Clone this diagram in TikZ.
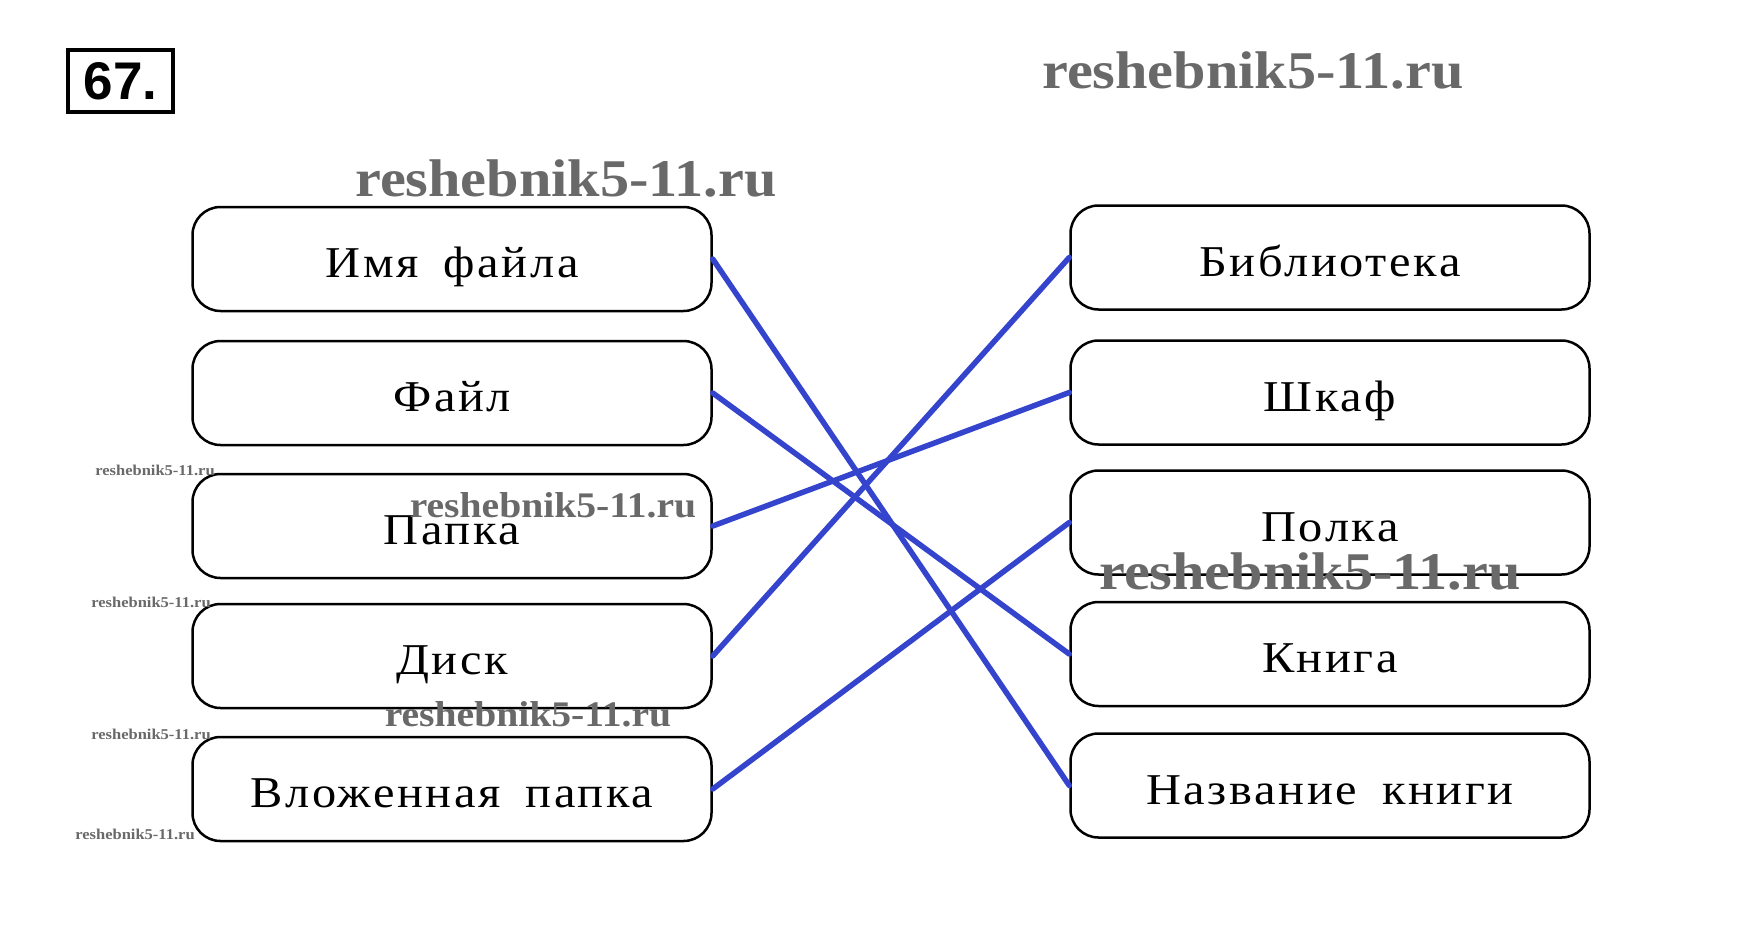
\documentclass[tikz,border=0pt]{standalone}
\usepackage{fontspec}
\setmainfont{Liberation Serif}
\newfontfamily\labfont[LetterSpace=6,FakeStretch=1.1,WordSpace=1.7]{Liberation Serif}
\newfontfamily\wmfont[FakeStretch=1.1]{Liberation Serif}
\newfontfamily\numfont{Liberation Sans}
\definecolor{linkblue}{RGB}{52,68,204}
\definecolor{wmgray}{RGB}{105,105,105}
\begin{document}
\begin{tikzpicture}[x=1pt,y=-1pt]
\tikzset{
  item/.style={draw,line width=2.5pt,rounded corners=28pt,minimum width=519pt,minimum height=104pt,inner sep=0pt,text height=37pt,text depth=0pt,font=\labfont\fontsize{44}{50}\selectfont},
  link/.style={line width=5.5pt,draw=linkblue,line cap=round},
  wmbig/.style={text=wmgray,inner sep=0pt,font=\wmfont\bfseries\fontsize{53}{60}\selectfont},
  wmmid/.style={text=wmgray,inner sep=0pt,font=\wmfont\bfseries\fontsize{36}{40}\selectfont},
  wmsmall/.style={text=wmgray,inner sep=0pt,font=\wmfont\bfseries\fontsize{15}{18}\selectfont},
  numbox/.style={draw,line width=4pt,minimum width=105pt,minimum height=62pt,inner sep=0pt,font=\numfont\bfseries\fontsize{53}{56}\selectfont}
}
\fill[white] (0,0) rectangle (1756,940);
\useasboundingbox (0,0) rectangle (1756,940);
\node[numbox] (num) at (120.5,81) {67.};
% left column
\node[item] (l1) at (452,259) {Имя файла};
\node[item] (l2) at (452,393) {Файл};
\node[item] (l3) at (452,526) {Папка};
\node[item] (l4) at (452,656) {Диск};
\node[item] (l5) at (452,789) {Вложенная папка};
% right column
\node[item] (r1) at (1330,257.5) {Библиотека};
\node[item] (r2) at (1330,392.5) {Шкаф};
\node[item] (r3) at (1330,522.5) {Полка};
\node[item] (r4) at (1330,654) {Книга};
\node[item] (r5) at (1330,785.5) {Название книги};
% connectors
\draw[link] (l1.east) -- (r5.west);
\draw[link] (l2.east) -- (r4.west);
\draw[link] (l3.east) -- (r2.west);
\draw[link] (l4.east) -- (r1.west);
\draw[link] (l5.east) -- (r3.west);
% watermarks
\node[wmbig] (w1) at (1253,70) {reshebnik5-11.ru};
\node[wmbig] (w2) at (566,178) {reshebnik5-11.ru};
\node[wmbig] (w3) at (1310,571) {reshebnik5-11.ru};
\node[wmmid] (w4) at (553,505) {reshebnik5-11.ru};
\node[wmmid] (w5) at (528,714) {reshebnik5-11.ru};
\node[wmsmall] (s1) at (155,470) {reshebnik5-11.ru};
\node[wmsmall] (s2) at (151,602) {reshebnik5-11.ru};
\node[wmsmall] (s3) at (151,734) {reshebnik5-11.ru};
\node[wmsmall] (s4) at (135,834) {reshebnik5-11.ru};
\end{tikzpicture}
\end{document}
